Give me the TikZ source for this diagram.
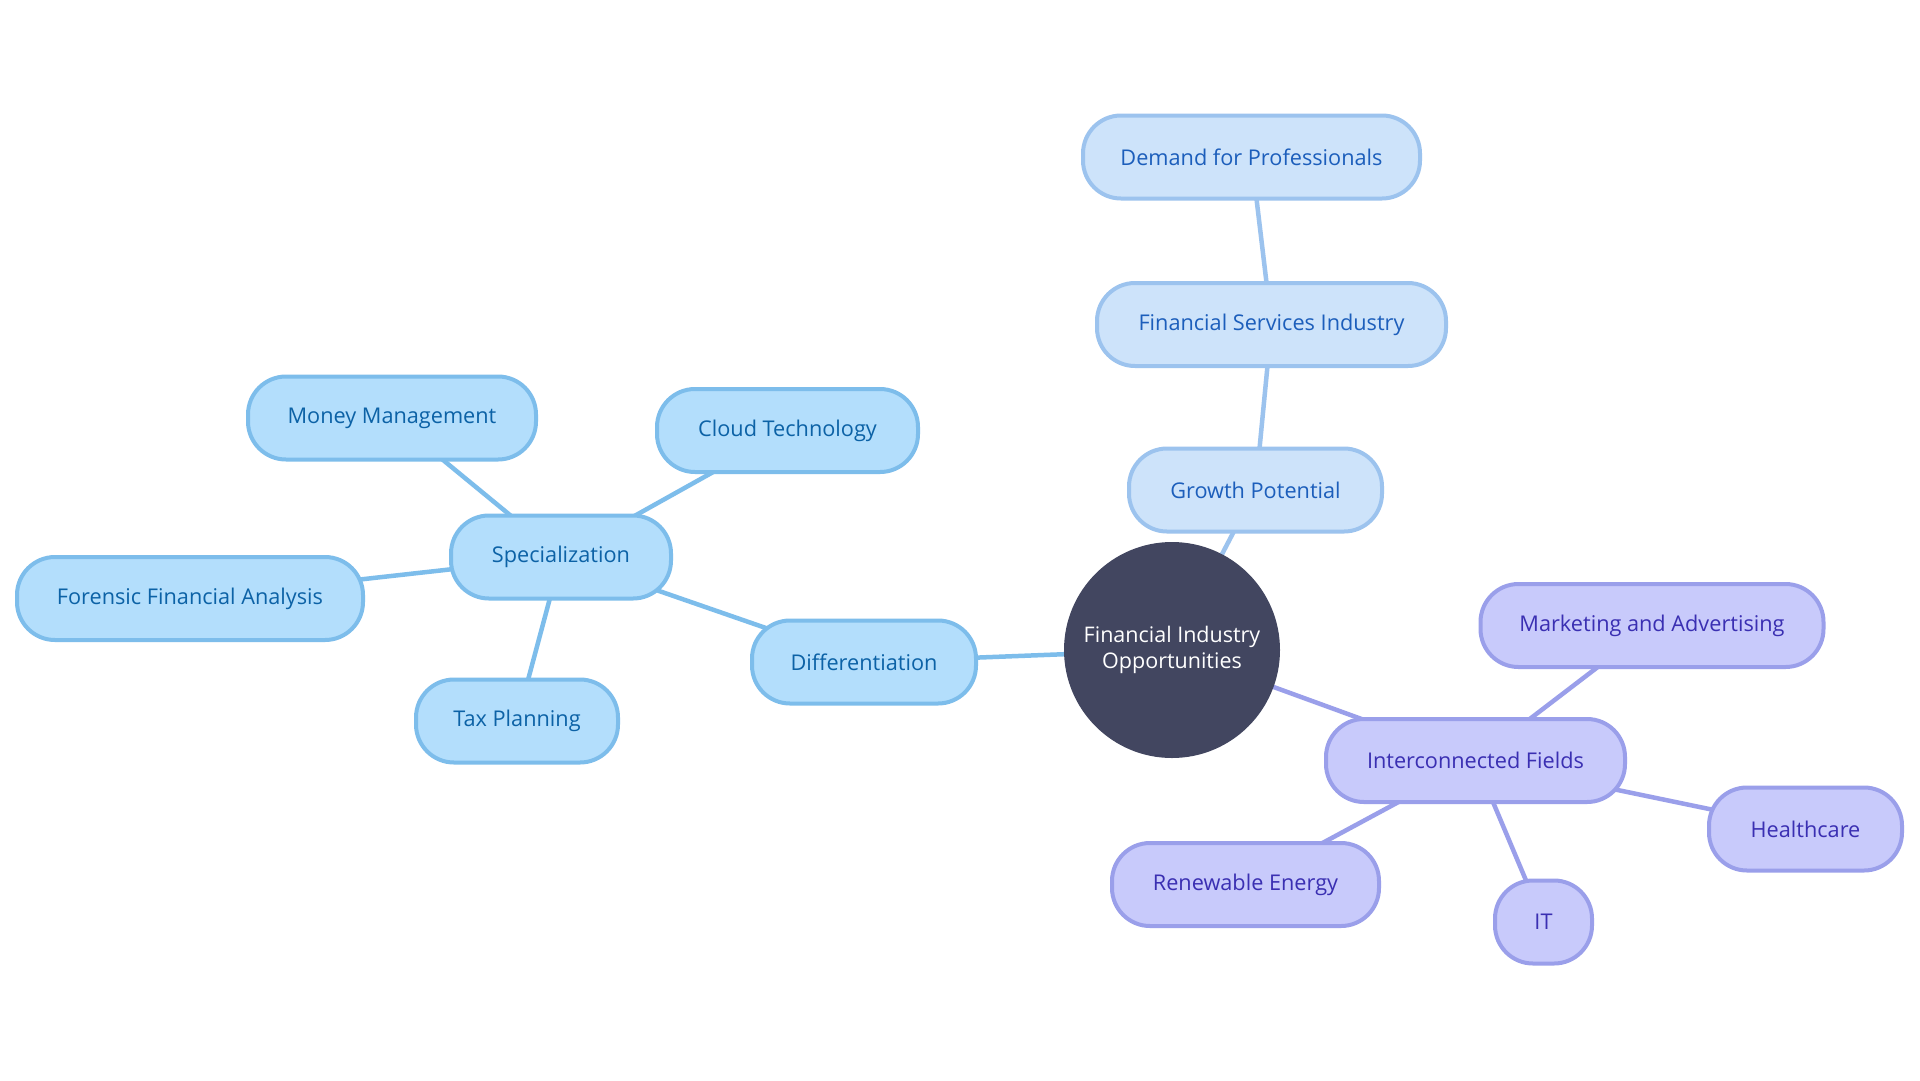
\documentclass[tikz,border=0pt]{standalone}
\usepackage{fontspec}
\setmainfont{Open Sans}
\usetikzlibrary{backgrounds}
\definecolor{cfill}{HTML}{424660}
\definecolor{bfill}{HTML}{B3DEFC}
\definecolor{bdraw}{HTML}{7DBDEB}
\definecolor{btext}{HTML}{0C62A6}
\definecolor{gfill}{HTML}{CDE3FA}
\definecolor{gdraw}{HTML}{9CC3EE}
\definecolor{gtext}{HTML}{1C5EBB}
\definecolor{pfill}{HTML}{C8CAFB}
\definecolor{pdraw}{HTML}{9A9FEA}
\definecolor{ptext}{HTML}{3A2FB2}
\tikzset{
  box/.style={rounded corners=38pt, line width=4pt, minimum height=83pt, inner sep=0pt,
    font=\fontsize{21.7}{26}\selectfont},
  bluebox/.style={box, fill=bfill, draw=bdraw, text=btext},
  growbox/.style={box, fill=gfill, draw=gdraw, text=gtext},
  purpbox/.style={box, fill=pfill, draw=pdraw, text=ptext},
  blueedge/.style={draw=bdraw, line width=4.5pt},
  growedge/.style={draw=gdraw, line width=4.5pt},
  purpedge/.style={draw=pdraw, line width=4.5pt},
}
\begin{document}
\begin{tikzpicture}[x=1pt,y=-1pt]
\useasboundingbox (0,0) rectangle (1920,1080);
% root
\node[circle, fill=cfill, minimum size=216pt, inner sep=0pt, text=white,
  align=center, font=\fontsize{21.5}{26}\selectfont] (root) at (1172,650)
  {Financial Industry\\Opportunities};
% growth branch
\node[growbox, minimum width=253pt] (grow) at (1255.5,490) {Growth Potential};
\node[growbox, minimum width=349pt] (fsi) at (1271.5,324.5) {Financial Services Industry};
\node[growbox, minimum width=337pt] (dem) at (1251.5,157) {Demand for Professionals};
% blue branch
\node[bluebox, minimum width=224pt] (diff) at (864,662) {Differentiation};
\node[bluebox, minimum width=220pt] (spec) at (561,557) {Specialization};
\node[bluebox, minimum width=288pt] (money) at (392,418) {Money Management};
\node[bluebox, minimum width=261pt] (cloud) at (787.5,430.5) {Cloud Technology};
\node[bluebox, minimum width=346pt] (foren) at (190,598.5) {Forensic Financial Analysis};
\node[bluebox, minimum width=202pt] (tax) at (517,721) {Tax Planning};
% purple branch
\node[purpbox, minimum width=299pt] (inter) at (1475.5,760.5) {Interconnected Fields};
\node[purpbox, minimum width=343pt] (mark) at (1652,625.5) {Marketing and Advertising};
\node[purpbox, minimum width=193pt] (health) at (1805.5,829) {Healthcare};
\node[purpbox, minimum width=97pt] (it) at (1543.5,922) {IT};
\node[purpbox, minimum width=267pt] (renew) at (1245.5,884.5) {Renewable Energy};
\begin{scope}[on background layer]
\fill[white] (0,0) rectangle (1920,1080);
\draw[growedge] (root.center) -- (grow.center);
\draw[growedge] (grow.center) -- (fsi.center);
\draw[growedge] (fsi.center) -- (dem.center);
\draw[blueedge] (root.center) -- (diff.center);
\draw[blueedge] (diff.center) -- (spec.center);
\draw[blueedge] (spec.center) -- (money.center);
\draw[blueedge] (spec.center) -- (cloud.center);
\draw[blueedge] (spec.center) -- (foren.center);
\draw[blueedge] (spec.center) -- (tax.center);
\draw[purpedge] (root.center) -- (inter.center);
\draw[purpedge] (inter.center) -- (mark.center);
\draw[purpedge] (inter.center) -- (health.center);
\draw[purpedge] (inter.center) -- (it.center);
\draw[purpedge] (inter.center) -- (renew.center);
\end{scope}
\end{tikzpicture}
\end{document}
